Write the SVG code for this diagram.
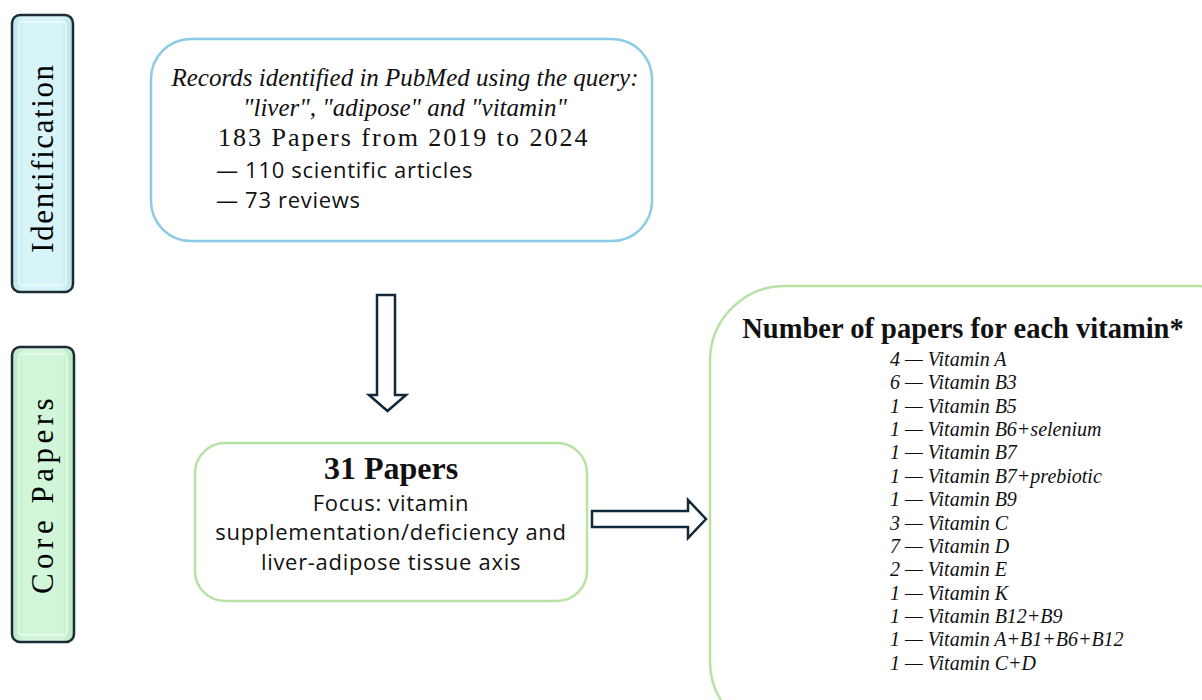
<svg xmlns="http://www.w3.org/2000/svg" width="1202" height="700" viewBox="0 0 1202 700">
<style>
.tab{stroke:#1e2b36;stroke-width:2.5}
.inner{fill:none;stroke:#ffffff;stroke-opacity:0.6;stroke-width:1.5}
.tabtxt{font-family:"Liberation Serif",serif;font-size:31px;fill:#000}
.serif{font-family:"Liberation Serif",serif;fill:#111}
.sans{font-family:"Open Sans","Liberation Sans",sans-serif;fill:#111;font-size:22px;letter-spacing:0.7px}
.it{font-style:italic}
.arrow{fill:#fff;stroke:#13293a;stroke-width:2.5;stroke-linejoin:miter}
.list{font-family:"Liberation Serif",serif;font-style:italic;font-size:20px;fill:#111}
</style>
<defs>
<linearGradient id="gCyan" x1="0" y1="0" x2="1" y2="0">
<stop offset="0" stop-color="#b9e6ec"/><stop offset="0.2" stop-color="#d7f5f9"/><stop offset="0.8" stop-color="#d7f5f9"/><stop offset="1" stop-color="#b5e2e8"/>
</linearGradient>
<linearGradient id="gGreen" x1="0" y1="0" x2="1" y2="0">
<stop offset="0" stop-color="#b6e8c2"/><stop offset="0.2" stop-color="#d2f6da"/><stop offset="0.8" stop-color="#d2f6da"/><stop offset="1" stop-color="#b4e6c0"/>
</linearGradient>
</defs>
<g id="tab-identification">
<rect class="tab" x="12" y="15" width="61" height="277" rx="8" fill="url(#gCyan)"/>
<rect class="inner" x="19" y="22" width="47" height="263" rx="3"/>
<text class="tabtxt" transform="translate(53,158) rotate(-90)" text-anchor="middle" letter-spacing="1.6">Identification</text>
</g>
<g id="tab-core">
<rect class="tab" x="12" y="347" width="62" height="295" rx="8" fill="url(#gGreen)"/>
<rect class="inner" x="19" y="354" width="48" height="281" rx="3"/>
<text class="tabtxt" transform="translate(53,494) rotate(-90)" text-anchor="middle" letter-spacing="4.5">Core Papers</text>
</g>
<g id="node-identification">
<rect x="151" y="39" width="501" height="202" rx="40" fill="#fff" stroke="#8ccbe8" stroke-width="2.5"/>
<text class="serif it" x="405" y="86" text-anchor="middle" font-size="25">Records identified in PubMed using the query:</text>
<text class="serif it" x="405" y="116" text-anchor="middle" font-size="25">"liver", "adipose" and "vitamin"</text>
<text class="serif" x="218" y="146" font-size="26" letter-spacing="2">183 Papers from  2019 to 2024</text>
<text class="sans" x="216" y="178">— 110 scientific articles</text>
<text class="sans" x="216" y="208">— 73 reviews</text>
</g>
<g id="node-core">
<rect x="195" y="443" width="392" height="158" rx="30" fill="#fff" stroke="#b6e3a4" stroke-width="2.5"/>
<text class="serif" x="391" y="479" text-anchor="middle" font-size="32" font-weight="bold">31 Papers</text>
<text class="sans" x="391" y="511" text-anchor="middle">Focus: vitamin</text>
<text class="sans" x="391" y="540" text-anchor="middle">supplementation/deficiency and</text>
<text class="sans" x="391" y="570" text-anchor="middle">liver-adipose tissue axis</text>
</g>
<g id="node-vitamins">
<rect x="710" y="286" width="560" height="450" rx="75" fill="#fff" stroke="#b6e3a4" stroke-width="2.5"/>
<text class="serif" x="963" y="338" text-anchor="middle" font-size="28.5" font-weight="bold">Number of papers for each vitamin*</text>
<text class="list" x="890" y="366">4 — Vitamin A</text>
<text class="list" x="890" y="389.4">6 — Vitamin B3</text>
<text class="list" x="890" y="412.7">1 — Vitamin B5</text>
<text class="list" x="890" y="436.1">1 — Vitamin B6+selenium</text>
<text class="list" x="890" y="459.4">1 — Vitamin B7</text>
<text class="list" x="890" y="482.8">1 — Vitamin B7+prebiotic</text>
<text class="list" x="890" y="506.1">1 — Vitamin B9</text>
<text class="list" x="890" y="529.5">3 — Vitamin C</text>
<text class="list" x="890" y="552.8">7 — Vitamin D</text>
<text class="list" x="890" y="576.2">2 — Vitamin E</text>
<text class="list" x="890" y="599.5">1 — Vitamin K</text>
<text class="list" x="890" y="622.9">1 — Vitamin B12+B9</text>
<text class="list" x="890" y="646.2">1 — Vitamin A+B1+B6+B12</text>
<text class="list" x="890" y="669.6">1 — Vitamin C+D</text>
</g>
<g id="connectors">
<path class="arrow" d="M377,295 L395,295 L395,395 L406,395 L387.5,411 L369,395 L377,395 Z"/>
<path class="arrow" d="M592,511 L688,511 L688,500 L706,519 L688,538 L688,527 L592,527 Z"/>
</g>
</svg>
